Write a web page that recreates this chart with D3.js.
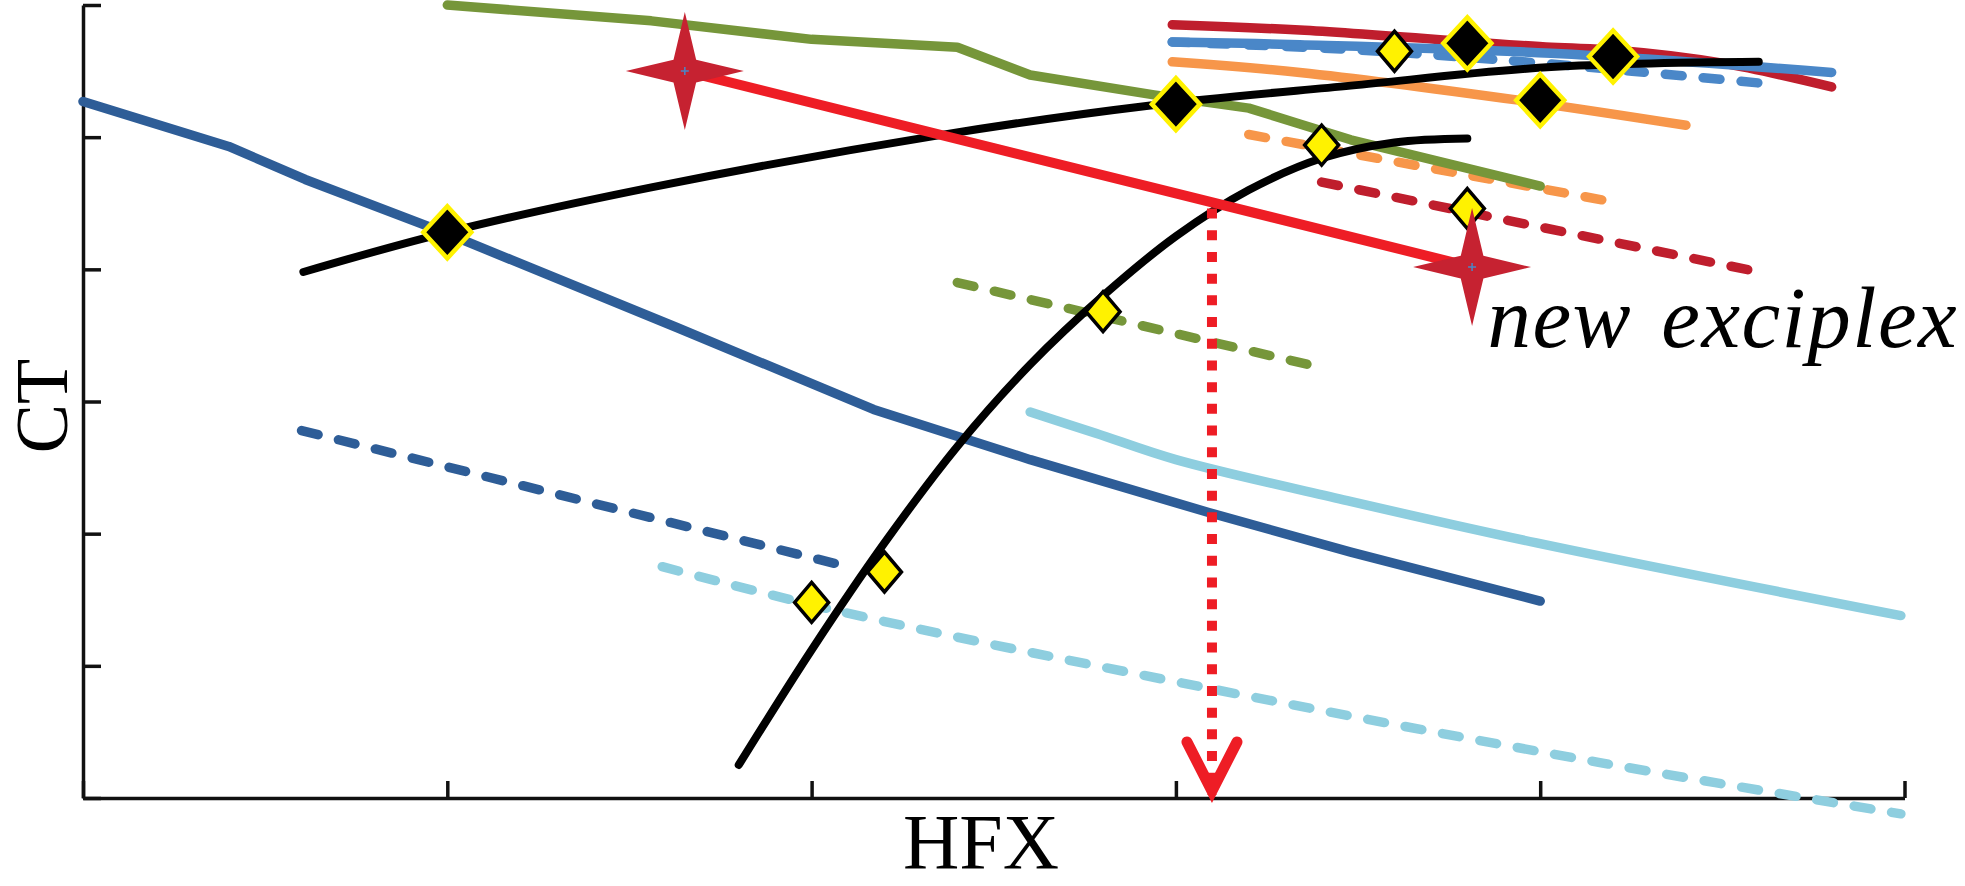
<!DOCTYPE html>
<html><head><meta charset="utf-8">
<script src="https://cdn.jsdelivr.net/npm/d3@7/dist/d3.min.js"></script>
<style>html,body{margin:0;padding:0;background:#fff;overflow:hidden}</style>
</head><body>
<svg id="chart" width="1965" height="886"></svg>
<script>
// ---- data ----
const xTicks = [0, 1, 2, 3, 4, 5];
const yTicks = [0, 1, 2, 3, 4, 5, 6];
const xLabel = "HFX";
const yLabel = "CT";
const noteText = "new exciplex";
const notePos = [3.855, 3.41];

const darkBlueSolid = [[0,5.27],[0.4,4.93],[0.61,4.68],[1.0,4.27],[1.63,3.56],[2.17,2.94],[2.6,2.56],[3.09,2.16],[3.48,1.86],[4.0,1.49]];
const darkBlueDashed = [[0.6,2.78],[2.1,1.75]];
const lightBlueSolid = [[2.6,2.92],[2.78,2.76],[3.0,2.56],[3.47,2.25],[3.99,1.93],[4.99,1.38]];
const lightBlueDashed = [[1.59,1.75],[2.08,1.41],[3.09,0.83],[4.16,0.27],[4.99,-0.12]];
const oliveSolid = [[1.0,6.0],[1.56,5.88],[2.0,5.74],[2.4,5.68],[2.6,5.47],[2.94,5.32],[3.2,5.22],[3.34,5.10],[3.48,4.98],[4.0,4.63]];
const oliveDashed = [[2.4,3.9],[3.41,3.25]];
const darkRedSolid = [[2.99,5.85],[3.34,5.81],[4.03,5.68],[4.2,5.66],[4.5,5.56],[4.8,5.38]];
const darkRedDashed = [[3.4,4.66],[4.6,3.98]];
const blueSolid = [[2.99,5.72],[3.34,5.70],[4.03,5.635],[4.8,5.49]];
const blueDashed = [[2.99,5.72],[3.5,5.66],[4.0,5.56],[4.6,5.41]];
const orangeSolid = [[2.99,5.57],[3.34,5.49],[3.94,5.28],[4.4,5.09]];
const orangeDashed = [[3.2,5.02],[4.2,4.51]];
const blackCurveA = [[0.605,3.98],[1.0,4.28],[1.56,4.62],[2.34,5.01],[2.93,5.24],[3.48,5.39],[4.03,5.53],[4.6,5.57]];
const blackCurveB = [[1.8,0.25],[2.0,1.12],[2.2,1.93],[2.4,2.66],[2.6,3.28],[2.8,3.8],[3.0,4.25],[3.2,4.6],[3.4,4.84],[3.6,4.96],[3.8,4.99]];
const redLine = [[1.652,5.5],[3.813,4.017]];
const stars = [[1.652,5.5],[3.813,4.017]];
const arrowLine = [[3.099,4.46],[3.099,0.023]];
const blackDiamonds = [[1.0,4.28],[3.0,5.25],[3.8,5.71],[4.2,5.61],[4.0,5.28]];
const yellowDiamonds = [[3.6,5.65],[3.4,4.94],[3.8,4.46],[2.8,3.68],[2.2,1.71],[2.0,1.48]];

// ---- drawing ----
const svg = d3.select("#chart");
const x = d3.scaleLinear().domain([0, 5]).range([83, 1904.5]);
const y = d3.scaleLinear().domain([0, 6]).range([798, 5]);

const lineStraight = d3.line().x(d => x(d[0])).y(d => y(d[1]));
const lineSmooth = d3.line().x(d => x(d[0])).y(d => y(d[1])).curve(d3.curveCatmullRom.alpha(0.5));

const C = {
  darkBlue: "#2E5D97", lightBlue: "#8ECEDF", olive: "#76963A", darkRed: "#BF1E2D",
  blue: "#4A87C8", orange: "#F7964A", red: "#EE1D25", star: "#C62231",
  yellow: "#FFF200"
};
const dash = "17,21";
const W = 9.5;

function drawLine(data, color, dashed, width, smooth) {
  svg.append("path").datum(data)
    .attr("d", smooth ? lineSmooth : lineStraight)
    .attr("fill", "none").attr("stroke", color)
    .attr("stroke-width", width)
    .attr("stroke-linecap", "round").attr("stroke-linejoin", "round")
    .attr("stroke-dasharray", dashed ? dash : null);
}

// axes
const gx = svg.append("g").attr("transform", `translate(0,${y(0)})`)
  .call(d3.axisBottom(x).tickValues(xTicks).tickSizeInner(-17).tickSizeOuter(0).tickFormat(""));
const gy = svg.append("g").attr("transform", `translate(${x(0)},0)`)
  .call(d3.axisLeft(y).tickValues(yTicks).tickSizeInner(-18).tickSizeOuter(0).tickFormat(""));
[gx, gy].forEach(g => {
  g.selectAll("path.domain").attr("stroke", "#111").attr("stroke-width", 3.5);
  g.selectAll(".tick line").attr("stroke", "#111").attr("stroke-width", 3.5);
});

// colored series
drawLine(darkBlueDashed, C.darkBlue, true, W, false);
drawLine(lightBlueDashed, C.lightBlue, true, W, true);
drawLine(oliveDashed, C.olive, true, W, false);
drawLine(orangeDashed, C.orange, true, W, false);
drawLine(darkRedDashed, C.darkRed, true, W, false);
drawLine(darkBlueSolid, C.darkBlue, false, W, false);
drawLine(lightBlueSolid, C.lightBlue, false, W, true);
drawLine(oliveSolid, C.olive, false, W, false);
drawLine(orangeSolid, C.orange, false, W, true);
drawLine(darkRedSolid, C.darkRed, false, W, true);
drawLine(blueDashed, C.blue, true, W, true);
drawLine(blueSolid, C.blue, false, W, true);

// black curves
drawLine(blackCurveA, "#000", false, 8, true);
drawLine(blackCurveB, "#000", false, 8, true);

// red line between stars
drawLine(redLine, C.red, false, 10, false);

// dotted arrow
svg.append("path").datum(arrowLine)
  .attr("d", lineStraight).attr("fill", "none").attr("stroke", C.red)
  .attr("stroke-width", 10).attr("stroke-dasharray", "10,11.7");
const ax = x(arrowLine[1][0]), ay = y(arrowLine[1][1]);
svg.append("path")
  .attr("d", `M${ax - 25},${ay - 53} L${ax},${ay - 4} L${ax + 25},${ay - 53}`)
  .attr("fill", "none").attr("stroke", C.red).attr("stroke-width", 11)
  .attr("stroke-linecap", "round").attr("stroke-linejoin", "miter").attr("stroke-miterlimit", 10);

// diamonds
const diamond = (w, h) => `M0,${-h}L${w},0L0,${h}L${-w},0Z`;
svg.selectAll(".bd").data(blackDiamonds).join("path")
  .attr("transform", d => `translate(${x(d[0])},${y(d[1])})`)
  .attr("d", diamond(24, 26)).attr("fill", "#000")
  .attr("stroke", C.yellow).attr("stroke-width", 4.5);
svg.selectAll(".yd").data(yellowDiamonds).join("path")
  .attr("transform", d => `translate(${x(d[0])},${y(d[1])})`)
  .attr("d", diamond(17, 20)).attr("fill", C.yellow)
  .attr("stroke", "#000").attr("stroke-width", 3.5);

// stars
function starPath(R, r) {
  const pts = [];
  for (let i = 0; i < 8; i++) {
    const a = -Math.PI / 2 + i * Math.PI / 4;
    const rad = i % 2 === 0 ? R : r;
    pts.push([rad * Math.cos(a), rad * Math.sin(a)]);
  }
  return "M" + pts.map(p => p.join(",")).join("L") + "Z";
}
const sg = svg.selectAll(".st").data(stars).join("g")
  .attr("transform", d => `translate(${x(d[0])},${y(d[1])})`);
sg.append("path").attr("d", starPath(59, 16)).attr("fill", C.star);
sg.append("path").attr("d", "M-4,0H4M0,-4V4").attr("stroke", C.blue).attr("stroke-width", 1.5);

// texts
svg.append("text").attr("x", x(notePos[0])).attr("y", y(notePos[1]))
  .attr("font-family", "'Liberation Serif', 'Times New Roman', serif")
  .attr("font-style", "italic").attr("font-size", 87)
  .attr("letter-spacing", 1.5).attr("word-spacing", 6)
  .attr("fill", "#000").text(noteText);

svg.append("text").attr("x", 981).attr("y", 868)
  .attr("text-anchor", "middle")
  .attr("font-family", "'Liberation Serif', 'Times New Roman', serif")
  .attr("font-size", 78).attr("fill", "#000").text(xLabel);

svg.append("text").attr("transform", "translate(67,406) rotate(-90)")
  .attr("text-anchor", "middle")
  .attr("font-family", "'Liberation Serif', 'Times New Roman', serif")
  .attr("font-size", 74).attr("fill", "#000").text(yLabel);
</script>
</body></html>
